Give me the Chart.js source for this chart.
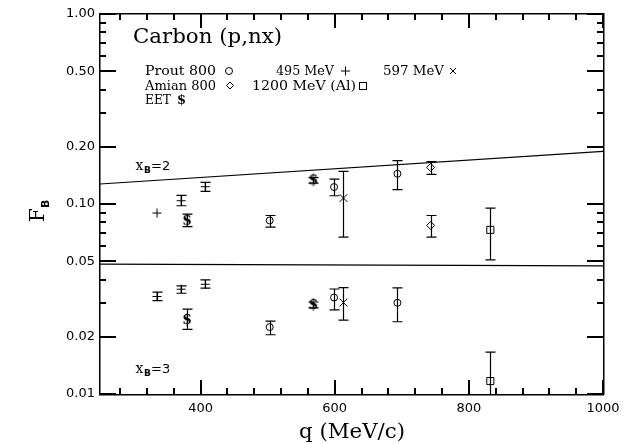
<!DOCTYPE html>
<html>
<head>
<meta charset="utf-8">
<script src="https://cdn.jsdelivr.net/npm/chart.js@4.4.1/dist/chart.umd.min.js"></script>
<style>
  body { margin: 0; background: #fff; }
  canvas { display: block; }
</style>
</head>
<body>
<canvas id="chart" width="629" height="443"></canvas>
<script>
// tick values
const xMajor = [400, 600, 800, 1000];
const xMinor = [280, 320, 360, 440, 480, 520, 560, 640, 680, 720, 760, 840, 880, 920, 960];
const yMajor = [0.01, 0.02, 0.05, 0.1, 0.2, 0.5, 1];
const yMinor = [0.03, 0.04, 0.06, 0.07, 0.08, 0.09, 0.3, 0.4, 0.6, 0.7, 0.8, 0.9];

// Prout 800 (circles)
const proutQ  = [503, 599, 693.5, 503, 599, 693.5];
const proutF  = [0.0819, 0.1228, 0.1443, 0.0225, 0.0322, 0.0302];
const proutLo = [0.0756, 0.1105, 0.1189, 0.0205, 0.0277, 0.0240];
const proutHi = [0.0870, 0.1353, 0.169, 0.0242, 0.0357, 0.0362];

// 495 MeV (plus)
const m495Q  = [335, 371, 407, 335, 371, 407];
const m495F  = [0.0896, 0.104, 0.1233, 0.0326, 0.0356, 0.0378];
const m495Lo = [null, 0.0979, 0.1165, 0.0310, 0.0339, 0.0361];
const m495Hi = [null, 0.1109, 0.1299, 0.0344, 0.0371, 0.0399];

// 597 MeV (cross)
const m597Q  = [613, 613];
const m597F  = [0.1075, 0.0303];
const m597Lo = [0.067, 0.0245];
const m597Hi = [0.1484, 0.0363];

// Amian 800 (diamonds)
const amianQ  = [743, 743];
const amianF  = [0.1558, 0.0771];
const amianLo = [0.1431, 0.067];
const amianHi = [0.167, 0.087];

// 1200 MeV (Al) (squares)
const m1200Q  = [832, 832];
const m1200F  = [0.0731, 0.0117];
const m1200Lo = [0.0508, 0.008];
const m1200Hi = [0.0952, 0.0166];

// EET ($)
const eetQ  = [379.6, 568, 379.6, 568];
const eetF  = [0.0816, 0.1331, 0.0245, 0.0294];
const eetLo = [0.0761, 0.1287, 0.0219, 0.0284];
const eetHi = [0.0885, 0.1375, 0.0280, 0.0305];

// x_B curves
const xb2Q = [250, 1000];
const xb2F = [0.1274, 0.189];
const xb3Q = [250, 1000];
const xb3F = [0.0483, 0.0473];

const SERIF = '"DejaVu Serif", serif';
const SANS = '"DejaVu Sans", sans-serif';

function pts(q, f) { return q.map((v, i) => ({ x: v, y: f[i] })); }

// "$" marker as a small canvas
function dollarImg() {
  const c = document.createElement('canvas');
  c.width = 12; c.height = 16;
  const g = c.getContext('2d');
  g.font = 'bold 14px ' + SERIF;
  g.textAlign = 'center';
  g.textBaseline = 'middle';
  g.fillStyle = '#000';
  g.fillText('$', 6, 8.5);
  return c;
}
const dollar = dollarImg();

function series(q, f, lo, hi, style, r) {
  return {
    data: pts(q, f), lo: lo, hi: hi,
    pointStyle: style, pointRadius: r, pointHoverRadius: r,
    borderColor: '#000', backgroundColor: 'rgba(0,0,0,0)', pointBorderWidth: 1,
    showLine: false
  };
}

function curve(q, f) {
  return {
    data: pts(q, f), showLine: true, pointRadius: 0,
    borderColor: '#000', borderWidth: 1.2, fill: false
  };
}

// draw text with its width forced to w pixels
function fitText(ctx, text, x, y, w) {
  const m = ctx.measureText(text).width;
  ctx.save();
  ctx.translate(x, y);
  ctx.scale(w / m, 1);
  ctx.fillText(text, 0, 0);
  ctx.restore();
}

// error bars, text labels, frame and inward ticks
const decor = {
  id: 'decor',
  afterDatasetsDraw(chart) {
    const ctx = chart.ctx, xs = chart.scales.x, ys = chart.scales.y;
    const a = chart.chartArea;
    ctx.save();
    ctx.beginPath();
    ctx.rect(a.left, a.top, a.right - a.left, a.bottom - a.top);
    ctx.clip();
    ctx.strokeStyle = '#000';
    ctx.lineWidth = 1.2;
    chart.data.datasets.forEach(ds => {
      if (!ds.lo) return;
      ds.data.forEach((p, i) => {
        if (ds.lo[i] == null) return;
        const px = Math.round(xs.getPixelForValue(p.x)) + 0.5;
        const y1 = ys.getPixelForValue(ds.lo[i]);
        const y2 = ys.getPixelForValue(ds.hi[i]);
        ctx.beginPath();
        ctx.moveTo(px, y1); ctx.lineTo(px, y2);
        ctx.moveTo(px - 5, y1); ctx.lineTo(px + 5, y1);
        ctx.moveTo(px - 5, y2); ctx.lineTo(px + 5, y2);
        ctx.stroke();
      });
    });
    ctx.restore();
  },
  afterDraw(chart) {
    const ctx = chart.ctx, xs = chart.scales.x, ys = chart.scales.y;
    const a = chart.chartArea;
    ctx.save();
    ctx.fillStyle = '#000';
    ctx.strokeStyle = '#000';
    ctx.textBaseline = 'alphabetic';
    ctx.textAlign = 'left';

    // axis titles
    ctx.font = '21px ' + SERIF;
    fitText(ctx, 'q (MeV/c)', 299, 438, 106);

    ctx.save();
    ctx.translate(44, 222);
    ctx.rotate(-Math.PI / 2);
    ctx.font = '20px ' + SERIF;
    ctx.fillText('F', 0, 0);
    ctx.font = 'bold 11px ' + SANS;
    ctx.fillText('B', 14, 5);
    ctx.restore();

    // title and legend text
    ctx.font = '21px ' + SERIF;
    fitText(ctx, 'Carbon (p,nx)', 133, 43, 149);

    ctx.font = '13px ' + SERIF;
    fitText(ctx, 'Prout 800', 145, 75, 71);
    fitText(ctx, '495 MeV', 276, 75, 58);
    fitText(ctx, '597 MeV', 383, 75, 61);
    fitText(ctx, 'Amian 800', 145, 89.5, 71);
    fitText(ctx, '1200 MeV (Al)', 252, 89.5, 104);
    fitText(ctx, 'EET', 145, 104, 26);
    ctx.font = 'bold 13px ' + SERIF;
    ctx.fillText('$', 177, 104);

    // legend symbols
    ctx.lineWidth = 1;
    ctx.beginPath();
    ctx.arc(229, 71, 3.5, 0, Math.PI * 2);
    ctx.stroke();
    ctx.beginPath();
    ctx.moveTo(341, 71); ctx.lineTo(350, 71);
    ctx.moveTo(345.5, 66.5); ctx.lineTo(345.5, 75.5);
    ctx.moveTo(450, 68); ctx.lineTo(456, 74);
    ctx.moveTo(456, 68); ctx.lineTo(450, 74);
    ctx.moveTo(230, 82); ctx.lineTo(233.5, 85.5); ctx.lineTo(230, 89); ctx.lineTo(226.5, 85.5); ctx.closePath();
    ctx.stroke();
    ctx.strokeRect(359.5, 82.5, 7, 7);

    // x_B labels
    const xb = (n, y) => {
      ctx.font = '14px ' + SERIF;
      ctx.fillText('x', 135.5, y);
      ctx.font = 'bold 9px ' + SANS;
      ctx.fillText('B', 144, y + 3);
      ctx.font = '13px ' + SANS;
      ctx.fillText('=' + n, 151, y);
    };
    xb(2, 170);
    xb(3, 373);

    // frame
    const L = Math.round(a.left), R = Math.round(a.right);
    const T = Math.round(a.top), Bt = Math.round(a.bottom);
    ctx.fillRect(L - 1, T - 1, R - L + 2, 1.5);
    ctx.fillRect(L - 1, Bt, R - L + 2, 1.5);
    ctx.fillRect(L - 1, T - 1, 1.5, Bt - T + 2);
    ctx.fillRect(R, T - 1, 1.5, Bt - T + 2);

    // inward ticks, positions from the scales, 2 px wide so they read clearly
    xMajor.concat(xMinor).forEach(v => {
      const len = xMajor.indexOf(v) >= 0 ? 14 : 6;
      const px = Math.round(xs.getPixelForValue(v)) - 1;
      ctx.fillRect(px, Bt - len, 2, len);
      ctx.fillRect(px, T, 2, len);
    });
    yMajor.concat(yMinor).forEach(v => {
      const len = yMajor.indexOf(v) >= 0 ? 16 : 6;
      const py = Math.round(ys.getPixelForValue(v)) - 1;
      ctx.fillRect(L, py, len, 2);
      ctx.fillRect(R - len, py, len, 2);
    });
    ctx.restore();
  }
};

new Chart(document.getElementById('chart'), {
  type: 'scatter',
  data: {
    datasets: [
      curve(xb2Q, xb2F),
      curve(xb3Q, xb3F),
      series(proutQ, proutF, proutLo, proutHi, 'circle', 3.5),
      series(m495Q, m495F, m495Lo, m495Hi, 'cross', 4.5),
      series(m597Q, m597F, m597Lo, m597Hi, 'crossRot', 5.5),
      series(amianQ, amianF, amianLo, amianHi, 'rectRot', 4),
      series(m1200Q, m1200F, m1200Lo, m1200Hi, 'rect', 5),
      series(eetQ, eetF, eetLo, eetHi, dollar, 6)
    ]
  },
  options: {
    responsive: false,
    animation: false,
    layout: { padding: { top: 14, right: 26, left: 0, bottom: 0 } },
    plugins: { legend: { display: false }, tooltip: { enabled: false } },
    scales: {
      x: {
        type: 'linear', min: 250, max: 1000,
        afterBuildTicks: s => { s.ticks = xMajor.map(v => ({ value: v })); },
        afterFit: s => { s.height = 49; },
        grid: { display: false, drawTicks: false },
        border: { display: false },
        ticks: { color: '#000', font: { family: SANS, size: 13 }, padding: 7, maxRotation: 0,
                 callback: v => String(v) }
      },
      y: {
        type: 'logarithmic', min: 0.01, max: 1,
        afterBuildTicks: s => { s.ticks = yMajor.map(v => ({ value: v })); },
        afterFit: s => { s.width = 100; },
        grid: { display: false, drawTicks: false },
        border: { display: false },
        ticks: { color: '#000', font: { family: SANS, size: 13 }, padding: 5,
                 callback: v => Number(v).toFixed(2) }
      }
    }
  },
  plugins: [decor]
});
</script>
</body>
</html>
